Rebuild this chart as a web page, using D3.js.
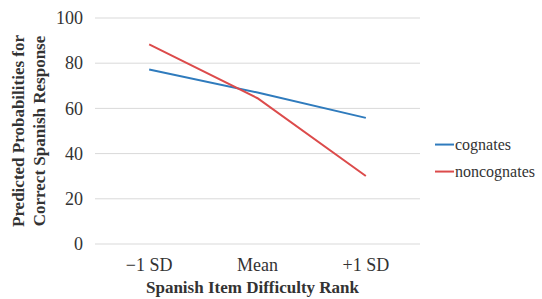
<!DOCTYPE html>
<html>
<head>
<meta charset="utf-8">
<script src="https://cdn.jsdelivr.net/npm/d3@7"></script>
<style>
  body { margin: 0; background: #fff; }
  .axis-title { font-weight: bold; font-size: 17px; }
</style>
</head>
<body>
<div id="chart"></div>
<script>
// data
const categories = ['\u22121 SD', 'Mean', '+1 SD'];
const cognates = [77.2, 67, 55.8];
const noncognates = [88.3, 64.5, 30.1];
const series_names = ['cognates', 'noncognates'];
const series_colors = ['#2f7bbd', '#dc4b4b'];
const y_ticks = [0, 20, 40, 60, 80, 100];

const serif = '"Times New Roman", "Liberation Serif", serif';
const width = 542, height = 299;
const margin = {top: 18, right: 122, bottom: 55, left: 95};
const innerW = width - margin.left - margin.right,
      innerH = height - margin.top - margin.bottom;

const svg = d3.select('#chart').append('svg')
    .attr('width', width)
    .attr('height', height)
  .append('g')
    .attr('transform', `translate(${margin.left},${margin.top})`)
    .attr('font-family', serif)
    .attr('fill', '#333');

const x = d3.scaleBand().domain(categories).range([0, innerW]);
const y = d3.scaleLinear().domain([0, 100]).range([innerH, 0]);

// grid
svg.append('g')
  .selectAll('line')
  .data(y_ticks)
  .join('line')
    .attr('x1', 0).attr('x2', innerW)
    .attr('y1', d => y(d)).attr('y2', d => y(d))
    .attr('stroke', '#d9d9d9').attr('stroke-width', 1);

// y axis labels
const yAxis = svg.append('g')
    .call(d3.axisLeft(y).tickValues(y_ticks).tickSize(0).tickPadding(12));
yAxis.select('.domain').remove();

// x axis labels
const xAxis = svg.append('g')
    .attr('transform', `translate(0,${innerH})`)
    .call(d3.axisBottom(x).tickSize(0).tickPadding(14));
xAxis.select('.domain').remove();

[yAxis, xAxis].forEach(ax => {
  ax.attr('font-family', serif).attr('font-size', 18);
  ax.selectAll('text').attr('fill', '#333').style('font-family', serif);
});

// lines
const line = d3.line()
    .x((d, i) => x(categories[i]) + x.bandwidth() / 2)
    .y(d => y(d));

[cognates, noncognates].forEach((vals, i) => {
  svg.append('path')
    .datum(vals)
    .attr('fill', 'none')
    .attr('stroke', series_colors[i])
    .attr('stroke-width', 2)
    .attr('d', line);
});

// axis titles
svg.append('text')
    .attr('class', 'axis-title')
    .attr('text-anchor', 'middle')
    .attr('x', innerW / 2 - 5)
    .attr('y', innerH + 49)
    .text('Spanish Item Difficulty Rank');

const yTitle = svg.append('text')
    .attr('class', 'axis-title')
    .attr('text-anchor', 'middle')
    .attr('transform', `translate(${-71}, ${y(50)}) rotate(-90)`);
yTitle.append('tspan').attr('x', 0).attr('dy', 0).text('Predicted Probabilities for');
yTitle.append('tspan').attr('x', 0).attr('dy', 21).text('Correct Spanish Response');

// legend
const legend = svg.append('g')
    .attr('transform', `translate(${innerW + 15}, ${y(44)})`);
series_names.forEach((name, i) => {
  const g = legend.append('g').attr('transform', `translate(0, ${i * 27})`);
  g.append('line')
    .attr('x1', 0).attr('x2', 19)
    .attr('stroke', series_colors[i]).attr('stroke-width', 2);
  g.append('text')
    .attr('x', 20).attr('dy', '0.35em')
    .attr('font-size', 16)
    .style('font-family', serif)
    .text(name);
});
</script>
</body>
</html>
